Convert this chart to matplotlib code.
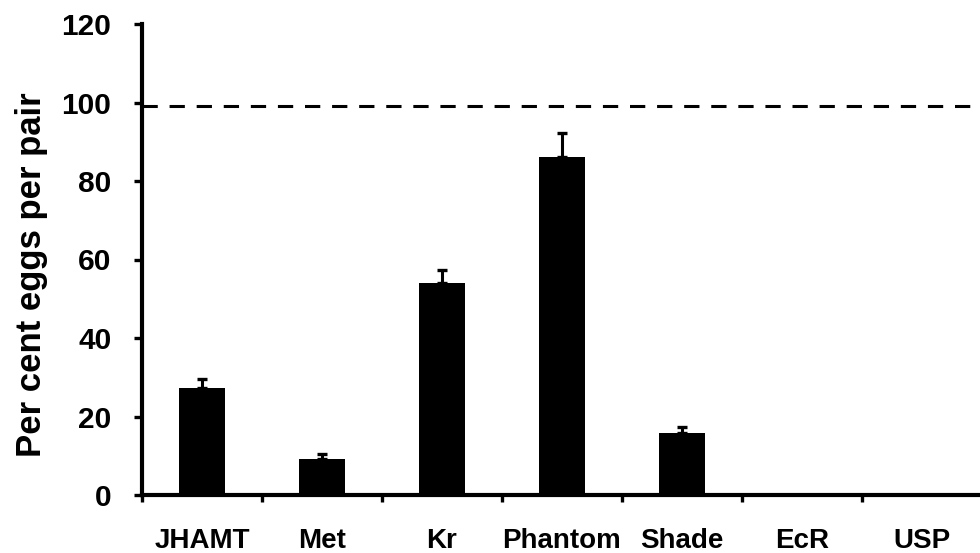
import numpy as np
import matplotlib.pyplot as plt

plt.rcParams['font.family'] = ['Liberation Sans', 'DejaVu Sans']
plt.rcParams['lines.scale_dashes'] = False

genes = ["JHAMT", "Met", "Kr", "Phantom", "Shade", "EcR", "USP"]
eggs = [27.3, 9.1, 54.0, 86.0, 15.8, 0.0, 0.0]
sem = [2.3, 1.3, 3.3, 6.3, 1.5, 0.0, 0.0]
control = 99

fig = plt.figure(figsize=(9.8, 5.53), dpi=100)
ax = fig.add_axes([142 / 980, 58 / 553, 840 / 980, 471 / 553])

x = np.arange(len(genes))
shown = np.array(eggs) > 0
ax.bar(x, eggs, width=0.39, color="black", zorder=2)
ax.errorbar(x[shown], np.array(eggs)[shown],
            yerr=[np.zeros(shown.sum()), np.array(sem)[shown]],
            fmt="none", ecolor="black", elinewidth=2.2, capsize=3.8,
            capthick=2.4, zorder=3)

ax.axhline(control, color="black", lw=2.2, dashes=(11, 8.5), zorder=1)

ax.set_xlim(-0.5, len(genes) - 0.5)
ax.set_ylim(0, 120)
ax.set_yticks(np.arange(0, 121, 20))

# category labels on the major ticks, boundary marks on the minor ones
ax.set_xticks(x)
ax.set_xticklabels(genes, fontsize=20, fontweight="bold")
ax.set_xticks(np.arange(-0.5, len(genes)), minor=True)
ax.tick_params(axis="x", which="major", length=0, pad=24)
ax.tick_params(axis="x", which="minor", length=5, width=2.4, direction="out")
ax.tick_params(axis="y", length=6, width=2.4, pad=16, labelsize=21.5)
for lab in ax.get_yticklabels():
    lab.set_fontweight("bold")

for side in ["top", "right"]:
    ax.spines[side].set_visible(False)
for side in ["left", "bottom"]:
    ax.spines[side].set_linewidth(3)

ax.set_ylabel("Per cent eggs per pair", fontsize=25, fontweight="bold")
ax.yaxis.set_label_coords(-0.112, 0.467)

fig.savefig("out.png", dpi=100)
